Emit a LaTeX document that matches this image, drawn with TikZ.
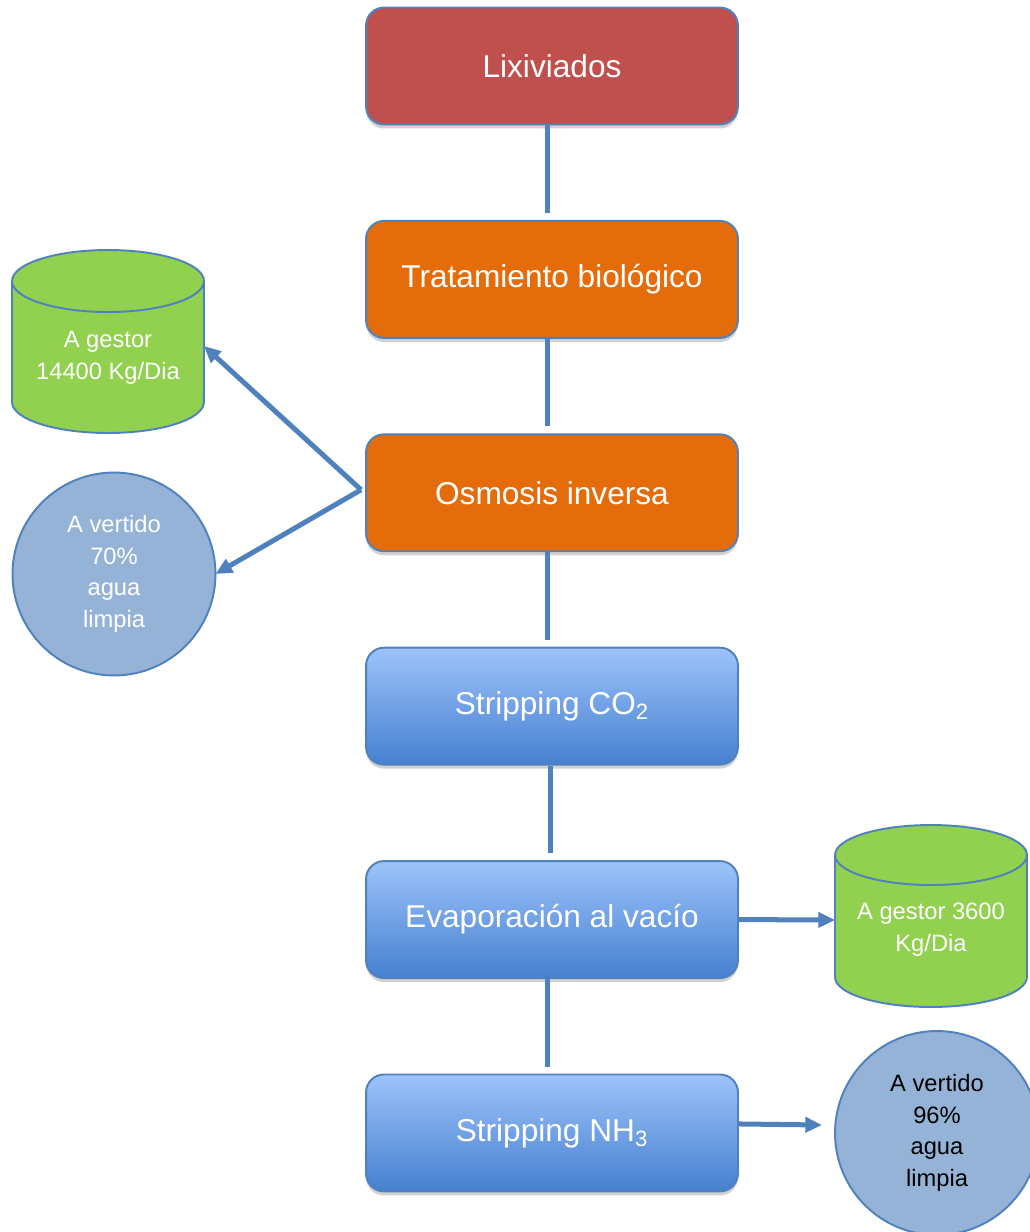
\documentclass[tikz,border=0pt]{standalone}
\usepackage{fontspec}
\setmainfont{Liberation Sans}
\usetikzlibrary{positioning, arrows.meta, shadows}
\definecolor{linkblue}{HTML}{4F81BD}
\definecolor{lixred}{HTML}{C0504D}
\definecolor{procorange}{HTML}{E46C0A}
\definecolor{gradtop}{HTML}{9DC3FA}
\definecolor{gradbot}{HTML}{4680D0}
\definecolor{tankgreen}{HTML}{92D050}
\definecolor{dropblue}{HTML}{95B3D7}

\begin{document}
\begin{tikzpicture} [
        x = 0.02cm,
        y = -0.02cm,
        >={Triangle[length=9.5pt, width=8.5pt]},
        stage/.style={rectangle, rounded corners = 0.36cm, draw = linkblue,
                line width = 1.1pt, minimum width = 7.44cm, minimum height = 2.34cm,
                text = white, font = \fontsize{18}{22}\selectfont,
                drop shadow = {shadow xshift = 0pt, shadow yshift = -0.08cm,
                        opacity = 0.18, fill = black}},
        blue stage/.style={stage, top color = gradtop, bottom color = gradbot},
        link/.style={draw = linkblue, line width = 2.85pt},
        tank/.style={draw = linkblue, line width = 1.1pt, fill = tankgreen},
        tank text/.style={inner sep = 0pt, outer sep = 0pt, minimum width = 3.84cm,
                align = center, text = white,
                font = \fontsize{13.5}{18.1}\selectfont},
        drop/.style={circle, draw = linkblue, line width = 1.1pt, fill = dropblue,
                inner sep = 0pt, outer sep = 0pt, align = center,
                font = \fontsize{13.5}{17.9}\selectfont}]

    \useasboundingbox (0, 0) rectangle (1030, 1232);

    % main process line
    \node [
        stage,
        fill = lixred
    ] (lix) at (552, 66) {Lixiviados};

    \node [
        stage,
        fill = procorange,
        below = 1.89cm of lix
    ] (bio) {Tratamiento biológico};

    \node [
        stage,
        fill = procorange,
        below = 1.89cm of bio
    ] (osm) {Osmosis inversa};

    \node [
        blue stage,
        below = 1.89cm of osm
    ] (co2) {Stripping CO\textsubscript{2}};

    \node [
        blue stage,
        below = 1.89cm of co2
    ] (evap) {Evaporación al vacío};

    \node [
        blue stage,
        below = 1.89cm of evap
    ] (nh3) {Stripping NH\textsubscript{3}};

    \draw [link] ([xshift = -0.1cm]lix.south) -- ([xshift = -0.1cm, yshift = 0.14cm]bio.north);
    \draw [link] ([xshift = -0.1cm]bio.south) -- ([xshift = -0.1cm, yshift = 0.14cm]osm.north);
    \draw [link] ([xshift = -0.1cm]osm.south) -- ([xshift = -0.1cm, yshift = 0.14cm]co2.north);
    \draw [link] ([xshift = -0.04cm]co2.south) -- ([xshift = -0.04cm, yshift = 0.14cm]evap.north);
    \draw [link] ([xshift = -0.1cm]evap.south) -- ([xshift = -0.1cm, yshift = 0.14cm]nh3.north);

    % tanks
    \draw [tank] (12, 281) -- (12, 402)
        arc [start angle = 180, end angle = 360, x radius = 1.92cm, y radius = 0.62cm]
        -- (204, 281)
        arc [start angle = 0, end angle = 180, x radius = 1.92cm, y radius = 0.62cm]
        -- cycle;
    \draw [tank, fill = none] (12, 281)
        arc [start angle = 180, end angle = 360, x radius = 1.92cm, y radius = 0.62cm];
    \node [tank text] (gest1) at (108, 358) {A gestor\\14400 Kg/Dia};

    \draw [tank] (835, 855) -- (835, 977)
        arc [start angle = 180, end angle = 360, x radius = 1.92cm, y radius = 0.6cm]
        -- (1027, 855)
        arc [start angle = 0, end angle = 180, x radius = 1.92cm, y radius = 0.6cm]
        -- cycle;
    \draw [tank, fill = none] (835, 855)
        arc [start angle = 180, end angle = 360, x radius = 1.92cm, y radius = 0.6cm];
    \node [tank text] (gest2) at (931, 930) {A gestor 3600\\Kg/Dia};

    % discharge
    \node [
        drop,
        minimum size = 4.06cm,
        text = white
    ] (vert1) at (114, 574) {A vertido\\70\%\\agua\\limpia};

    \node [
        drop,
        minimum size = 4.08cm,
        text = black
    ] (vert2) at (937, 1133) {A vertido\\96\%\\agua\\limpia};

    \draw [link, ->] ([xshift = -0.08cm, yshift = 0.06cm]osm.west) -- ([yshift = 0.24cm]gest1.east);
    \draw [link, ->] ([xshift = -0.08cm, yshift = 0.06cm]osm.west) -- (vert1.east);
    \draw [link, ->] (evap.east) -- ([yshift = 0.2cm]gest2.west);
    \draw [link, ->] ([yshift = 0.18cm]nh3.east) -- ([xshift = -0.26cm, yshift = 0.16cm]vert2.west);

\end{tikzpicture}
\end{document}
